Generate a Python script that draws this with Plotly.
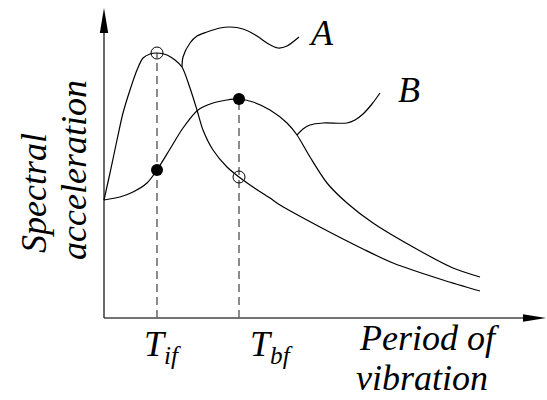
import plotly.graph_objects as go

# Period (x) and spectral acceleration (y) in arbitrary units
period_a = [0.00, 0.06, 0.13, 0.19, 0.26, 0.33, 0.39, 0.46, 0.53, 0.63, 0.71, 0.78, 0.86,
            0.93, 0.99, 1.09, 1.23, 1.35, 1.49, 1.66, 1.76, 2.16, 2.59, 2.89, 3.39, 3.76]
accel_a = [1.18, 1.45, 1.78, 2.05, 2.28, 2.48, 2.60, 2.64, 2.65, 2.63, 2.58, 2.51, 2.30,
           2.08, 1.88, 1.68, 1.51, 1.41, 1.31, 1.20, 1.13, 0.91, 0.69, 0.55, 0.38, 0.27]

period_b = [0.00, 0.16, 0.29, 0.43, 0.53, 0.66, 0.79, 0.94, 1.09, 1.23, 1.35, 1.49, 1.66,
            1.83, 1.93, 2.06, 2.23, 2.43, 2.69, 3.09, 3.49, 3.76]
accel_b = [1.18, 1.21, 1.26, 1.35, 1.48, 1.69, 1.90, 2.08, 2.15, 2.18, 2.19, 2.16, 2.08,
           1.95, 1.83, 1.61, 1.35, 1.15, 0.95, 0.71, 0.50, 0.41]

# Characteristic periods and the spectral values read at them
t_if, t_bf = 0.53, 1.35
open_vals = [2.65, 1.41]    # curve A at T_if, T_bf
filled_vals = [1.48, 2.19]  # curve B at T_if, T_bf

# Callout curves linking the labels to their spectra
leader_a_x = [0.78, 0.79, 0.86, 0.93, 1.03, 1.16, 1.26, 1.39, 1.53, 1.63, 1.74, 1.83, 1.95]
leader_a_y = [2.51, 2.61, 2.75, 2.82, 2.86, 2.90, 2.91, 2.89, 2.82, 2.75, 2.70, 2.72, 2.81]
leader_b_x = [1.93, 1.99, 2.06, 2.19, 2.43, 2.51, 2.59, 2.68, 2.76]
leader_b_y = [1.83, 1.89, 1.93, 1.95, 1.95, 1.98, 2.04, 2.14, 2.25]

tick_labels = ["<i>T</i><sub><i>if</i></sub>", "<i>T</i><sub><i>bf</i></sub>"]

FONT = "Liberation Serif"
FS = 36
LEAD = "\u200a"  # hair space ahead of the italic run
X_RANGE = [-1.04, 4.43]
Y_RANGE = [-0.82, 3.18]
X_END, Y_END = 4.42, 3.10

fig = go.Figure()

# Dashed guides from the period axis up to the highest marked point
for t, top in zip([t_if, t_bf], [open_vals[0], filled_vals[1]]):
    fig.add_trace(go.Scatter(x=[t, t], y=[0, top], mode="lines",
                             line=dict(color="#666666", width=1.5, dash="8px,5px"),
                             hoverinfo="skip", showlegend=False))

line_style = dict(color="black", width=1.2, shape="spline", smoothing=0.8)
for xs, ys in [(period_a, accel_a), (period_b, accel_b), (leader_a_x, leader_a_y),
               (leader_b_x, leader_b_y)]:
    fig.add_trace(go.Scatter(x=xs, y=ys, mode="lines", line=line_style, showlegend=False))

fig.add_trace(go.Scatter(x=[t_if, t_bf], y=open_vals, mode="markers",
                         marker=dict(symbol="circle-open", size=12, color="black",
                                     line=dict(width=1)), showlegend=False))
fig.add_trace(go.Scatter(x=[t_if, t_bf], y=filled_vals, mode="markers",
                         marker=dict(symbol="circle", size=12, color="black"), showlegend=False))

# Axes drawn as arrows
axis_line = dict(color="#444444", width=1.6)
fig.add_shape(type="line", x0=0, y0=0, x1=0, y1=Y_END - 0.2, line=axis_line, layer="below")
fig.add_shape(type="line", x0=0, y0=0, x1=X_END - 0.2, y1=0, line=axis_line, layer="below")
fig.add_shape(type="path", path=f"M -0.042,{Y_END - 0.25} L 0,{Y_END} L 0.042,{Y_END - 0.25} Z",
              fillcolor="black", line=dict(width=0))
fig.add_shape(type="path", path=f"M {X_END - 0.23},-0.037 L {X_END},0 L {X_END - 0.23},0.037 Z",
              fillcolor="black", line=dict(width=0))


def label(x, y, text, xanchor="center", **kw):
    fig.add_annotation(x=x, y=y, text=LEAD + text, showarrow=False, xref="x", yref="y",
                       xanchor=xanchor, yanchor="middle",
                       font=dict(family=FONT, size=FS, color="black"), **kw)


label(2.17, 2.85, "<i>A</i>")
label(3.03, 2.28, "<i>B</i>")
label(t_if + 0.04, -0.28, tick_labels[0])
label(t_bf + 0.31, -0.28, tick_labels[1])
label(2.51, -0.20, "<i>Period of</i>", xanchor="left")
label(2.47, -0.60, "<i>vibration</i>", xanchor="left")
label(-0.70, 1.23, "<i>Spectral</i>", textangle=-90)
label(-0.30, 1.46, "<i>acceleration</i>", textangle=-90)

fig.update_layout(
    width=547, height=400, autosize=False,
    margin=dict(l=0, r=0, t=0, b=0),
    paper_bgcolor="white", plot_bgcolor="white",
    xaxis=dict(range=X_RANGE, visible=False),
    yaxis=dict(range=Y_RANGE, visible=False),
)

fig.write_html("out.html")
